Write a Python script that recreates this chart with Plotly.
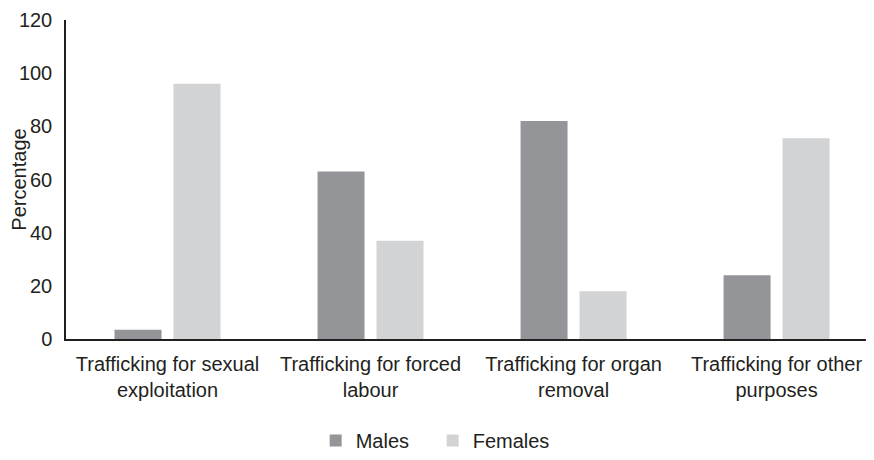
import plotly.graph_objects as go

categories = ["Trafficking for sexual<br>exploitation", "Trafficking for forced<br>labour",
              "Trafficking for organ<br>removal", "Trafficking for other<br>purposes"]
males = [3.5, 63, 82, 24]
females = [96, 37, 18, 75.5]
y_ticks = [0, 20, 40, 60, 80, 100, 120]

FONT = "Liberation Sans, Arial, sans-serif"
TXT = "#231f20"
FS = 20

fig = go.Figure()
fig.add_trace(go.Bar(x=categories, y=males, name="Males", marker=dict(color="#939598", line=dict(width=0))))
fig.add_trace(go.Bar(x=categories, y=females, name="Females", marker=dict(color="#d1d3d4", line=dict(width=0))))

fig.update_layout(
    width=866, height=452,
    margin=dict(l=58, r=0, t=12, b=115),
    paper_bgcolor="white", plot_bgcolor="white",
    font=dict(family=FONT, size=FS, color=TXT),
    barmode="group", bargap=0.419, bargroupgap=0.203,
    showlegend=True,
    legend=dict(orientation="h", x=0.309, xanchor="left", y=-0.318, yanchor="middle",
                font=dict(size=FS), itemwidth=30, entrywidth=72, entrywidthmode="pixels",
                traceorder="normal"),
    xaxis=dict(range=[-0.5, 3.48], showline=True, linecolor=TXT, linewidth=1.5,
               showgrid=False, ticks="", tickfont=dict(size=FS), fixedrange=True, automargin=False,
               ticklabelstandoff=6),
    yaxis=dict(range=[0, 120], tickvals=y_ticks, showline=True, linecolor=TXT, linewidth=1.5,
               showgrid=False, zeroline=False, ticks="", ticklabelstandoff=8,
               tickfont=dict(size=FS), automargin=False, ticklabeloverflow="allow",
               title=dict(text="Percentage", font=dict(size=FS), standoff=12)),
)

fig.write_html("out.html")
